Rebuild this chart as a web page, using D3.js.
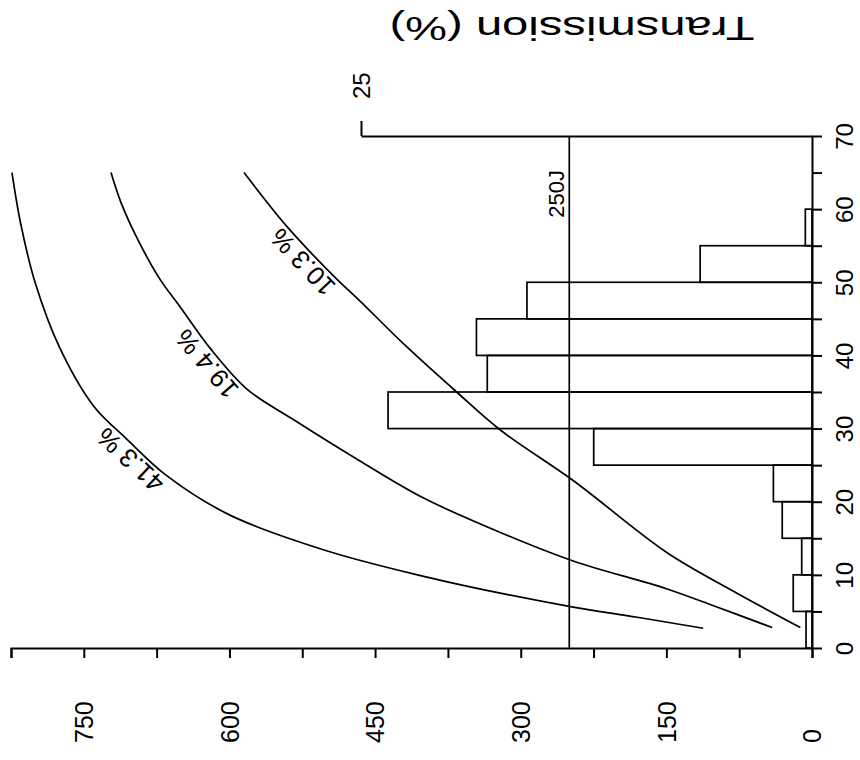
<!DOCTYPE html>
<html>
<head>
<meta charset="utf-8">
<script src="https://cdn.jsdelivr.net/npm/d3@7"></script>
<style>
  html, body { margin: 0; padding: 0; background: #fff; }
  svg { display: block; }
  text { font-family: "Liberation Sans", Arial, Helvetica, sans-serif; fill: #000; }
</style>
</head>
<body>
<svg id="chart" width="860" height="760"></svg>
<script>
// Distribution of transmission classes: lower edge of each 5 % class and share of cases (%)
const binStarts = [0, 5, 10, 15, 20, 25, 30, 35, 40, 45, 50, 55, 60, 65];
const binShares = [0.33, 1.04, 0.57, 1.65, 2.14, 12.1, 23.5, 18.0, 18.6, 15.8, 6.2, 0.37, 0, 0];
const binWidth = 5;

// Energy (J) needed against transmission (%), one curve per series
const curveNames = ["10.3 %", "19.4 %", "41.3 %"];
const curveEnergy = [
  [12, 80, 150, 246, 321, 366, 420, 466, 490, 540, 585],
  [41, 100, 150, 246, 321, 400, 466, 535, 582, 620, 650, 672, 695, 712, 722],
  [112, 180, 246, 321, 400, 500, 600, 665, 706, 740, 775, 800, 815, 824]
];
const curveTransmission = [
  [2.8, 7.7, 13.1, 22.9, 29.8, 35.0, 41.5, 47.5, 50.5, 57.5, 65],
  [2.8, 5.7, 8.1, 11.9, 15.8, 20.5, 25.6, 31.3, 35.4, 41, 46.5, 50.5, 56, 61, 65],
  [2.7, 4.2, 5.6, 7.5, 9.8, 13.3, 18.2, 23.6, 28.6, 33.1, 41.1, 49.9, 58, 65]
];
const labelAt = [54, 40, 27];   // transmission where each curve carries its name

// Axes
const energyTicks = d3.range(0, 826, 75);
const energyLabels = [0, 150, 300, 450, 600, 750];
const transTicks = d3.range(0, 71, 5);
const transLabels = [0, 10, 20, 30, 40, 50, 60, 70];
const shareMax = 25;
const refEnergy = 250;
const refLabel = "250J";
const axisTitle = "Transmission (%)";

const svg = d3.select("#chart");
svg.append("rect").attr("width", 860).attr("height", 760).attr("fill", "#fff");

const xE = d3.scaleLinear().domain([0, 825]).range([812, 11]);      // energy runs right to left
const yT = d3.scaleLinear().domain([0, 70]).range([648, 136]);      // transmission runs upward
const xS = d3.scaleLinear().domain([0, shareMax]).range([812, 361]); // share grows leftward

const ink = "#000";
const fs = 24;

// histogram bars, hanging left from the transmission axis
const bars = binStarts.map((s, i) => ({ s, v: binShares[i] })).filter(d => d.v > 0);
svg.append("g").selectAll("rect").data(bars).join("rect")
  .attr("x", d => xS(d.v))
  .attr("width", d => xS(0) - xS(d.v))
  .attr("y", d => yT(d.s + binWidth))
  .attr("height", d => yT(d.s) - yT(d.s + binWidth))
  .attr("fill", "none").attr("stroke", ink).attr("stroke-width", 1.7);

// 250 J reference line
svg.append("line")
  .attr("x1", xE(refEnergy)).attr("x2", xE(refEnergy))
  .attr("y1", yT(0)).attr("y2", yT(70))
  .attr("stroke", ink).attr("stroke-width", 1.7);
svg.append("text")
  .attr("transform", `translate(${xE(refEnergy) - 5},${yT(70) + 34}) rotate(-90)`)
  .attr("text-anchor", "end")
  .attr("font-size", 22)
  .text(refLabel);

// curves
const line = d3.line()
  .x(d => xE(d[0]))
  .y(d => yT(d[1]))
  .curve(d3.curveCatmullRom.alpha(0.5));

const series = curveNames.map((name, i) => ({
  name,
  pts: curveEnergy[i].map((e, j) => [e, curveTransmission[i][j]]),
  at: labelAt[i]
}));

svg.append("g").selectAll("path").data(series).join("path")
  .attr("d", d => line(d.pts))
  .attr("fill", "none").attr("stroke", ink).attr("stroke-width", 1.7);

// energy on a series at a given transmission (piecewise linear between read points)
function energyAt(pts, t) {
  for (let k = 1; k < pts.length; k++) {
    if (t <= pts[k][1]) {
      const [e0, t0] = pts[k - 1], [e1, t1] = pts[k];
      return e0 + (e1 - e0) * (t - t0) / (t1 - t0);
    }
  }
  return pts[pts.length - 1][0];
}

svg.append("g").selectAll("text").data(series).join("text")
  .attr("transform", d => {
    const px = xE(energyAt(d.pts, d.at)), py = yT(d.at);
    const ax = xE(energyAt(d.pts, d.at + 2)), ay = yT(d.at + 2);
    const bx = xE(energyAt(d.pts, d.at - 2)), by = yT(d.at - 2);
    const ang = Math.atan2(by - ay, bx - ax) * 180 / Math.PI + 180;
    return `translate(${px},${py}) rotate(${ang})`;
  })
  .attr("text-anchor", "middle")
  .attr("dy", -4)
  .attr("font-size", 26)
  .text(d => d.name);

// energy axis along the bottom
const gE = svg.append("g")
  .attr("transform", `translate(0,${yT(0)})`)
  .call(d3.axisBottom(xE)
    .tickValues(energyTicks)
    .tickSize(10).tickSizeOuter(10)
    .tickFormat(d => energyLabels.includes(d) ? d : ""));
gE.selectAll("path, line").attr("stroke", ink).attr("stroke-width", 2);
gE.selectAll("text")
  .attr("x", 0).attr("y", 0).attr("dy", "0.35em")
  .attr("transform", "translate(0,95) rotate(-90)")
  .attr("text-anchor", "start")
  .attr("font-size", 25).attr("font-family", null).attr("fill", ink);

// transmission axis on the right
const gT = svg.append("g")
  .attr("transform", `translate(${xS(0)},0)`)
  .call(d3.axisRight(yT)
    .tickValues(transTicks)
    .tickSize(10).tickSizeOuter(0)
    .tickFormat(d => transLabels.includes(d) ? d : ""));
gT.selectAll("path, line").attr("stroke", ink).attr("stroke-width", 2);
gT.selectAll("text")
  .attr("x", 0).attr("y", 0).attr("dy", "0.35em")
  .attr("transform", "translate(33,0) rotate(-90)")
  .attr("text-anchor", "middle")
  .attr("font-size", fs).attr("font-family", null).attr("fill", ink);

// share axis along the top
const gS = svg.append("g")
  .attr("transform", `translate(0,${yT(70)})`)
  .call(d3.axisTop(xS)
    .tickValues([shareMax])
    .tickSize(15).tickSizeOuter(0));
gS.selectAll("path, line").attr("stroke", ink).attr("stroke-width", 2);
gS.selectAll("text")
  .attr("x", 0).attr("y", 0).attr("dy", "0.35em")
  .attr("transform", "translate(0,-37) rotate(-90)")
  .attr("text-anchor", "start")
  .attr("font-size", fs).attr("font-family", null).attr("fill", ink);

// axis title, set upside down above the chart
svg.append("text")
  .attr("transform", "translate(572,17) rotate(180)")
  .attr("text-anchor", "middle")
  .attr("font-size", 34)
  .attr("textLength", 365)
  .attr("lengthAdjust", "spacingAndGlyphs")
  .text(axisTitle);
</script>
</body>
</html>
